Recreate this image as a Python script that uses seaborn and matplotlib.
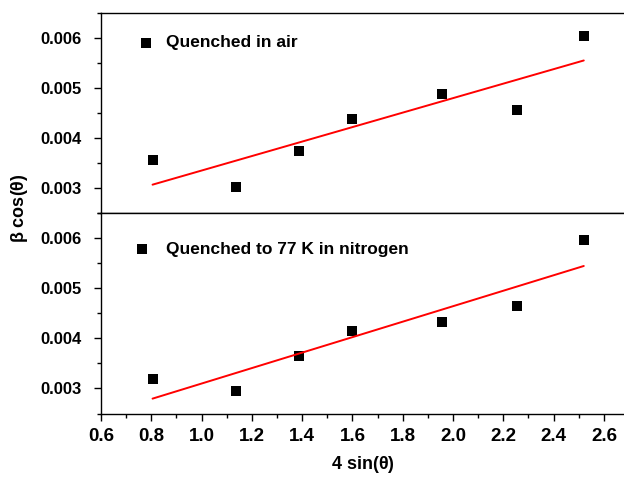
import matplotlib
matplotlib.use("Agg")
import matplotlib.pyplot as plt
from matplotlib.ticker import MultipleLocator, FormatStrFormatter
import seaborn as sns
import pandas as pd

sns.set_style("ticks")
plt.rcParams['font.family'] = ['Liberation Sans', 'DejaVu Sans']
plt.rcParams['font.weight'] = 'bold'
plt.rcParams['mathtext.fontset'] = 'custom'
plt.rcParams['mathtext.rm'] = 'Liberation Sans'
plt.rcParams['mathtext.bf'] = 'Liberation Sans:bold'
for k in ['text.color', 'axes.labelcolor', 'xtick.color', 'ytick.color', 'axes.edgecolor']:
    plt.rcParams[k] = 'black'

# Data
x_vals = [0.805, 1.135, 1.387, 1.598, 1.956, 2.256, 2.520]
y_air = [0.00355, 0.00301, 0.00373, 0.00438, 0.00488, 0.00456, 0.00604]
y_nitrogen = [0.00319, 0.00294, 0.00364, 0.00415, 0.00433, 0.00464, 0.00595]
labels = ["Quenched in air", "Quenched to 77 K in nitrogen"]
x_ticks = [0.6, 0.8, 1.0, 1.2, 1.4, 1.6, 1.8, 2.0, 2.2, 2.4, 2.6]
y_ticks = [0.003, 0.004, 0.005, 0.006]

W, H = 624, 484
fig = plt.figure(figsize=(W / 100, H / 100), dpi=100)
left = 101 / W
right = 1.0
top = 1 - 13 / H
mid = 1 - 212.5 / H
bot = 1 - 413.5 / H
ax_top = fig.add_axes([left, mid, right - left, top - mid])
ax_bot = fig.add_axes([left, bot, right - left, mid - bot])

series = [(ax_top, y_air, labels[0], 0.85, (0.0755, 0.89)),
          (ax_bot, y_nitrogen, labels[1], 1.1, (0.0675, 0.855))]
for ax, yv, lab, pad, anchor in series:
    df = pd.DataFrame({"x": x_vals, "y": yv})
    sns.regplot(data=df, x="x", y="y", ax=ax, ci=None, truncate=True,
                marker="s", color="black", label=lab,
                scatter_kws={"s": 42, "linewidths": 0, "alpha": 1},
                line_kws={"color": "#ff0000", "lw": 1.4})
    ax.set_xlim(0.6, 2.68)
    ax.set_ylim(0.0025, 0.0065)
    ax.set_xlabel("")
    ax.set_ylabel("")
    ax.set_yticks(y_ticks)
    ax.yaxis.set_minor_locator(MultipleLocator(0.0005))
    ax.yaxis.set_major_formatter(FormatStrFormatter("%.3f"))
    ax.tick_params(axis="y", which="major", length=5, width=1.0, direction="out",
                   labelsize=12, pad=9, colors="black")
    ax.tick_params(axis="y", which="minor", length=3, width=1.0, direction="out")
    for s in ax.spines.values():
        s.set_linewidth(1.0)
        s.set_color("black")
    ax.spines["right"].set_visible(False)
    ax.spines["top"].set_visible(True)
    for t in ax.get_yticklabels():
        t.set_fontweight("bold")
    leg = ax.legend(loc="upper left", bbox_to_anchor=anchor,
                    frameon=False, fontsize=12.5, handletextpad=pad,
                    handlelength=0.6, borderaxespad=0, borderpad=0)
    for t in leg.get_texts():
        t.set_fontweight("bold")
        t.set_color("black")

ax_top.set_xticks(x_ticks)
ax_top.xaxis.set_minor_locator(MultipleLocator(0.1))
ax_top.tick_params(axis="x", which="both", length=0, labelbottom=False)

ax_bot.set_xticks(x_ticks)
ax_bot.xaxis.set_minor_locator(MultipleLocator(0.1))
ax_bot.xaxis.set_major_formatter(FormatStrFormatter("%.1f"))
ax_bot.tick_params(axis="x", which="major", length=5, width=1.0, direction="out",
                   labelsize=13.5, pad=5.5, colors="black")
ax_bot.tick_params(axis="x", which="minor", length=3, width=1.0, direction="out")
for t in ax_bot.get_xticklabels():
    t.set_fontweight("bold")

ax_bot.set_xlabel(r"4 sin($\mathregular{\theta}$)", fontsize=13, fontweight="bold",
                  labelpad=6.5, color="black")
fig.text(20 / W, 1 - 208 / H, r"$\mathregular{\beta}$ cos($\mathregular{\theta}$)",
         rotation=90, ha="center", va="center", fontsize=13, fontweight="bold",
         color="black")

fig.savefig("out.png", dpi=100)
